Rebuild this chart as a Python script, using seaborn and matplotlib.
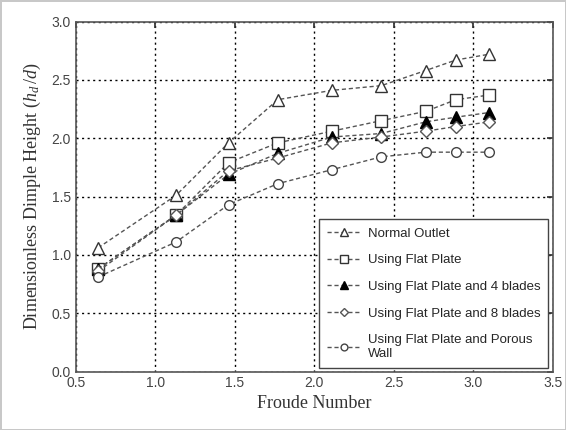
import matplotlib
matplotlib.use("Agg")
import matplotlib.pyplot as plt
import seaborn as sns
import pandas as pd

froude = [0.64, 1.13, 1.46, 1.77, 2.11, 2.42, 2.70, 2.89, 3.10]
normal_outlet = [1.06, 1.51, 1.96, 2.33, 2.41, 2.45, 2.58, 2.67, 2.72]
flat_plate = [0.88, 1.34, 1.79, 1.96, 2.06, 2.15, 2.23, 2.33, 2.37]
flat_4_blades = [0.88, 1.34, 1.69, 1.87, 2.01, 2.04, 2.14, 2.18, 2.22]
flat_8_blades = [0.86, 1.34, 1.72, 1.83, 1.96, 2.01, 2.06, 2.10, 2.14]
porous_wall = [0.81, 1.11, 1.43, 1.61, 1.73, 1.84, 1.88, 1.88, 1.88]

labels = ["Normal Outlet", "Using Flat Plate", "Using Flat Plate and 4 blades",
          "Using Flat Plate and 8 blades", "Using Flat Plate and Porous\nWall"]
series = [normal_outlet, flat_plate, flat_4_blades, flat_8_blades, porous_wall]

rows = []
for lab, vals in zip(labels, series):
    for x, y in zip(froude, vals):
        rows.append({"Froude": x, "h": y, "Series": lab})
df = pd.DataFrame(rows)

sns.set_theme(style="white")
plt.rcParams['font.family'] = ['Liberation Sans', 'DejaVu Sans']
plt.rcParams['mathtext.fontset'] = 'custom'
plt.rcParams['mathtext.it'] = 'Liberation Serif:italic'
plt.rcParams['mathtext.rm'] = 'Liberation Serif'

fig = plt.figure(figsize=(5.66, 4.30), dpi=100)
fig.patch.set_edgecolor("#c8c8c8")
fig.patch.set_linewidth(2)
ax = fig.add_axes([0.134, 0.136, 0.843, 0.814])

styles = {
    labels[0]: dict(marker="^", ms=8, mfc="white", mec="#333333"),
    labels[1]: dict(marker="s", ms=8, mfc="white", mec="#333333"),
    labels[2]: dict(marker="^", ms=8, mfc="black", mec="black"),
    labels[3]: dict(marker="D", ms=6, mfc="white", mec="#555555"),
    labels[4]: dict(marker="o", ms=7, mfc="white", mec="#444444"),
}
for lab in labels:
    st = styles[lab]
    sns.lineplot(data=df[df["Series"] == lab], x="Froude", y="h", ax=ax,
                 label=lab, color="#555555", linestyle=(0, (3, 2)), linewidth=1.0,
                 marker=st["marker"], markersize=st["ms"],
                 markerfacecolor=st["mfc"], markeredgecolor=st["mec"],
                 markeredgewidth=1.0)

ax.set_xlim(0.5, 3.5)
ax.set_ylim(0.0, 3.0)
ax.set_xticks([0.5, 1.0, 1.5, 2.0, 2.5, 3.0, 3.5])
ax.set_yticks([0.0, 0.5, 1.0, 1.5, 2.0, 2.5, 3.0])
ax.set_xticklabels([f"{v:.1f}" for v in ax.get_xticks()])
ax.set_yticklabels([f"{v:.1f}" for v in ax.get_yticks()])
ax.grid(True, color="black", linestyle=(0, (1.5, 2.5)), linewidth=1.0)
ax.tick_params(direction="in", top=True, right=True, length=4, color="#333333",
               labelsize=10, labelcolor="#444444")
for sp in ax.spines.values():
    sp.set_color("#555555")
    sp.set_linewidth(1.2)

ax.set_xlabel("Froude Number", fontsize=13, family="Liberation Serif", color="#333333", labelpad=3)
ax.set_ylabel(r"Dimensionless Dimple Height ($h_d\,/d$)", fontsize=13,
              family="Liberation Serif", color="#333333", labelpad=6)

leg = ax.legend(loc="lower right", bbox_to_anchor=(0.99, 0.01), borderaxespad=0,
                frameon=True, fancybox=False, edgecolor="#444444", fontsize=9.5,
                handlelength=2.6, handletextpad=0.5, labelspacing=1.1, borderpad=0.6,
                markerscale=0.7, framealpha=1)
leg.get_frame().set_linewidth(1.0)

fig.savefig("out.png", dpi=100)
